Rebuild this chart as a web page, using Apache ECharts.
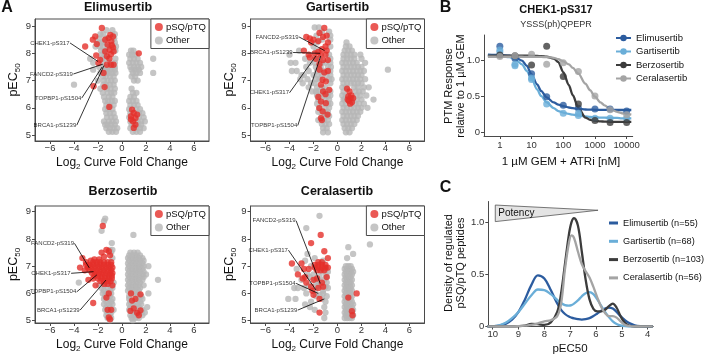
<!DOCTYPE html>
<html><head><meta charset="utf-8">
<script src="https://cdn.jsdelivr.net/npm/echarts@6/dist/echarts.min.js"></script>
<style>html,body{margin:0;padding:0;background:#fff}#c{width:705px;height:358px}</style>
</head><body><div id="c"></div>
<script>
// ---------------- DATA ----------------
const scatterTicksX = [-6, -4, -2, 0, 2, 4, 6];
const scatterTicksY = [5, 6, 7, 8, 9];

// rows: [pEC50, [log2 fold changes...]]
const elimusertibOtherRows = [
  [8.85, [-1.3, -0.8]], [8.7, [-1.8, -1.55, -0.6]], [8.55, [-1.9, -1.3, -0.65]],
  [8.4, [-2.0, -1.7, -1.55, -0.6]], [8.25, [-2.2, -1.85, -1.6, -1.2, -0.5]],
  [8.1, [-1.75, -1.5, -0.55, 0.75, 0.95]], [7.95, [-1.7, -1.45, 0.6, 0.85, 1.1]],
  [7.8, [-2.65, -1.65, -1.35, -0.55, 0.7, 1.0, 1.3, 2.6]], [7.65, [-2.4, -1.6, -1.0, -0.6, 0.6, 0.9, 1.2, 1.5]],
  [7.5, [-1.9, -1.45, -1.15, -0.85, -0.6, 0.7, 1.0, 1.3, 1.6]], [7.4, [-2.4, -1.5, -1.25, -0.95, -0.6, 0.8, 1.1, 1.4]],
  [7.28, [-1.8, -1.3, -1.1, -0.8, -0.55, 0.9, 1.2, 1.5, 2.6]], [7.15, [-1.6, -1.35, -1.0, -0.7, 0.8, 1.1]],
  [7.0, [-2.0, -1.5, -1.2, -0.9, -0.6, 1.0, 1.3]], [6.85, [-4.0, -1.55, -1.3, -1.0, -0.7]],
  [6.7, [-1.8, -1.25, -0.95, -0.6, 0.8]], [6.55, [-1.6, -1.2, -0.9, -0.65, 0.9, 1.2]],
  [6.4, [-1.5, -1.1, -0.8, 0.7, 1.0]], [6.25, [-1.4, -1.15, -0.85, -0.6, 0.6, 0.9, 1.2]],
  [6.1, [-1.3, -1.0, -0.7, 0.7, 1.0, 1.3]], [5.95, [-1.4, -1.15, -0.8, 0.6, 1.2, 1.5]],
  [5.8, [-1.3, -1.0, -0.7, 0.7, 1.4, 1.7]], [5.65, [-1.25, -0.9, -0.6, 0.6, 1.4, 1.8]],
  [5.5, [-1.5, -1.1, -0.8, -0.5, 0.7, 1.3, 1.6, 1.9]], [5.38, [-1.4, -1.2, -0.9, -0.6, 0.8, 1.3, 1.6]],
  [5.25, [-1.3, -1.0, -0.7, -0.4, 0.7, 1.2, 1.5, 1.8]], [5.12, [-1.1, -0.8, -0.5, 0.9, 1.2, 1.5]]
];
const elimusertibPq = [
  [-1.68, 8.93], [-2.23, 8.62], [-2.43, 8.5], [-2.1, 8.34], [-3.07, 8.25], [-2.15, 7.92], [-1.82, 7.76], [-1.96, 7.64],
  [-0.98, 8.68], [-0.75, 8.62], [-1.12, 8.56], [-1.4, 8.5], [-0.89, 8.44], [-1.2, 8.32], [-0.75, 8.22], [-1.03, 8.13],
  [-1.4, 8.07], [-0.7, 8.07], [-0.92, 7.97], [-1.26, 7.89], [-0.85, 8.3], [-1.05, 7.8],
  [-1.26, 7.58], [-0.92, 7.58], [-0.7, 7.58], [-1.54, 7.28], [-2.37, 6.79], [-1.45, 6.76], [-1.06, 6.03], [1.4, 8.0],
  [0.84, 5.93], [0.98, 5.81], [0.75, 5.69], [1.12, 5.62], [0.92, 5.5], [1.12, 5.38], [0.98, 5.26], [0.75, 5.57], [1.26, 5.75]
];
const elimusertibLabels = [
  ['CHEK1-pS317', -4.33, 8.38, -2.0, 7.7], ['FANCD2-pS319', -4.05, 7.24, -1.6, 7.6],
  ['TOPBP1-pS1504', -3.35, 6.36, -1.65, 7.5], ['BRCA1-pS1239', -3.77, 5.36, -1.5, 7.55]
];

const gartisertibOtherRows = [
  [8.95, [-1.55, -1.9]], [8.8, [-0.7, -1.3]], [8.65, [-1.75, -0.6]], [8.5, [-1.3, -0.6]], [8.4, [-1.7, 0.75]],
  [8.25, [-2.0, -0.6, 0.7, 1.0]], [8.1, [-1.75, -3.2, 0.6, 0.9, 1.2]],
  [7.95, [-4.0, -1.6, -0.7, 0.5, 0.8, 1.1, 1.4, 1.9]], [7.8, [-2.7, -1.9, -1.5, -0.6, 0.5, 0.8, 1.1, 1.4, 2.0]],
  [7.65, [-3.9, -3.5, -2.3, -1.9, -1.3, -1.0, -0.6, 0.4, 0.7, 1.0, 1.3, 1.6, 2.3]],
  [7.5, [-2.6, -1.8, -1.4, -0.8, -0.55, 0.5, 0.8, 1.1, 1.4, 1.7, 2.0]],
  [7.35, [-3.4, -3.8, -2.4, -1.7, -1.2, -0.6, 0.4, 0.7, 1.0, 1.3, 1.6, 1.9, 2.2]],
  [7.2, [-3.0, -2.8, -2.0, -1.6, -1.3, -0.9, -0.6, 0.5, 0.8, 1.1, 1.4, 1.7, 2.0]],
  [7.05, [-3.1, -2.5, -1.8, -1.5, -0.7, -0.5, 0.4, 0.7, 1.0, 1.3, 1.6, 1.9, 2.3]],
  [6.9, [-2.9, -2.2, -1.9, -0.6, 0.5, 0.8, 1.1, 1.4, 1.7, 2.0]],
  [6.75, [-2.4, -1.7, -1.3, -1.0, 0.4, 0.7, 1.4, 1.7, 2.2, 2.6]],
  [6.6, [-2.1, -1.8, -1.6, -1.1, -0.6, 0.5, 1.5, 1.8, 2.1]],
  [6.45, [-1.7, -1.4, -1.1, -0.8, -0.6, 0.4, 0.7, 1.6, 1.9, 2.4]],
  [6.3, [-1.6, -1.0, -0.7, 0.5, 0.6, 1.6, 2.0, 3.0]],
  [6.15, [-1.7, -1.3, -0.8, -0.6, 0.4, 0.7, 1.5, 1.8, 2.2]],
  [6.0, [-1.5, -1.0, -0.7, 0.5, 0.8, 1.1, 1.4, 1.7, 2.0, 2.5]],
  [5.85, [-1.6, -1.1, -0.8, 0.4, 0.7, 1.0, 1.3, 1.6, 1.9]],
  [5.7, [-1.3, -1.0, -0.7, 0.5, 0.8, 1.1, 1.4, 1.7]],
  [5.55, [-1.6, -1.1, -0.8, 0.4, 0.7, 1.0, 1.3, 1.6]],
  [5.4, [-1.3, -1.0, -0.7, 0.5, 0.8, 1.1, 1.4]],
  [5.25, [-1.2, -0.9, 0.6, 0.9, 1.2]], [5.1, [-1.2, -0.8, 0.7, 1.0]], [7.4, [4.2]]
];
const gartisertibPq = [
  [-2.6, 8.6], [-2.3, 8.55], [-2.0, 8.5], [-1.5, 8.75], [-1.1, 8.93], [-0.9, 8.65], [-1.2, 8.6], [-1.6, 8.45],
  [-2.2, 8.4], [-0.8, 8.4], [-1.0, 8.25], [-1.3, 8.15], [-0.9, 8.1], [-2.8, 8.1], [-2.4, 7.95], [-1.9, 8.0],
  [-1.6, 8.05], [-1.4, 7.95], [-1.0, 7.95], [-2.3, 7.85], [-1.8, 7.8], [-1.2, 7.75], [-0.8, 7.75], [-1.5, 7.6],
  [-1.1, 7.3], [-0.8, 7.35], [-1.5, 7.4], [-1.24, 7.03], [-0.97, 6.97], [-1.38, 6.85], [-0.69, 6.66], [-1.2, 6.6],
  [-1.0, 6.5], [-1.6, 6.4], [-1.38, 6.23], [-0.97, 6.17], [-1.52, 5.99], [-1.24, 5.87], [-0.83, 5.75], [-1.38, 5.62],
  [-1.3, 5.55],
  [0.8, 6.7], [1.0, 6.6], [0.9, 6.42], [1.1, 6.35], [1.3, 6.35], [0.95, 6.25], [1.2, 6.2], [1.05, 6.15], [0.85, 6.3], [1.15, 6.45]
];
const gartisertibLabels = [
  ['FANCD2-pS319', -3.2, 8.6, -1.08, 8.1], ['BRCA1-pS1239', -3.7, 8.03, -1.45, 8.0],
  ['CHEK1-pS317', -4.0, 6.55, -1.8, 7.9], ['TOPBP1-pS1504', -3.31, 5.35, -1.4, 7.9]
];

const berzosertibOtherRows = [
  [8.75, [-1.4]], [8.65, [-1.5]], [8.3, [-1.7]], [8.15, [0.95]], [7.85, [-0.85]],
  [7.6, [-1.0, -0.8]], [7.5, [-0.9, 0.7, 1.0, 1.3]], [7.4, [0.6, 0.9, 1.2, 1.5]], [7.3, [-0.8, 0.5, 0.8, 1.1, 1.4, 1.7]],
  [7.2, [0.6, 0.9, 1.2, 1.5, 1.8]], [7.1, [0.5, 0.8, 1.1, 1.4, 1.7]], [7.0, [0.6, 0.9, 1.2, 1.5, 1.8, 2.2]],
  [6.9, [0.5, 0.8, 1.1, 1.4, 1.7]], [6.8, [0.6, 0.9, 1.2, 1.5, 1.8]], [6.7, [0.5, 0.8, 1.1, 1.4, 1.7, 2.0]],
  [6.6, [0.6, 0.9, 1.2, 1.5, 1.8]], [6.5, [0.5, 0.8, 1.1, 1.4, 1.7, 3.0]], [6.4, [-3.6, -0.7, 0.6, 0.9, 1.2, 1.5]],
  [6.3, [-1.9, -1.5, -1.0, 0.5, 0.8, 1.1, 1.4, 1.8]], [6.2, [-1.7, -1.2, -0.8, 0.6, 0.9, 1.2, 1.5]],
  [6.1, [-1.5, -1.0, 0.5, 0.8, 1.1, 1.4]], [6.0, [-1.6, -1.3, -0.9, 1.0, 1.3, 2.2]],
  [5.9, [-1.4, -1.0, 0.6, 1.2, 1.6]], [5.8, [-1.5, -1.1, -0.8, 0.6, 1.4, 1.7]], [5.7, [-1.3, -0.9, 0.7, 1.1, 1.5]],
  [5.6, [-1.5, -1.1, -0.8, 0.6, 0.9, 1.3, 1.6]], [5.5, [-1.3, -1.0, 0.7, 1.1, 1.4, 2.1]],
  [5.4, [-1.4, -1.1, -0.7, 0.6, 1.7]], [5.3, [-1.2, -0.9, 0.9, 1.1, 1.6, 1.9]],
  [5.2, [-1.3, -1.0, 0.7, 1.0, 1.3, 1.7]], [5.1, [-1.2, -0.9, 0.8, 1.1, 1.4]], [5.02, [-1.0, 0.9]]
];
const berzosertibPqRows = [
  [7.15, [-2.4, -2.1, -1.8, -1.5, -1.2, -0.9]],
  [7.05, [-3.0, -2.7, -2.4, -2.1, -1.8, -1.5, -1.2, -0.9]],
  [6.95, [-2.85, -2.55, -2.25, -1.95, -1.65, -1.35, -1.05, -0.8]],
  [6.85, [-2.7, -2.4, -2.1, -1.8, -1.5, -1.2, -0.9]],
  [6.75, [-2.5, -2.2, -1.9, -1.6, -1.3, -1.0, -0.8]],
  [6.65, [-2.3, -2.0, -1.7, -1.4, -1.1, -0.85]],
  [6.55, [-2.0, -1.7, -1.4, -1.1, -0.85]],
  [6.45, [-1.8, -1.5, -1.2, -0.95]], [6.35, [-1.5, -1.2]]
];
const berzosertibPqExtra = [
  [-1.6, 8.48], [-3.5, 6.95], [-3.3, 7.3], [-3.0, 7.15], [-2.8, 7.0], [-2.3, 7.25], [-1.9, 7.25], [-1.7, 7.5],
  [-1.3, 7.6], [-1.1, 7.55], [-1.0, 7.4], [-1.5, 7.35], [-2.6, 7.2], [-3.1, 6.85], [-2.8, 6.5], [-2.4, 6.55],
  [-0.8, 6.3], [-2.2, 6.3], [-1.1, 6.0], [-2.4, 5.65], [-1.3, 5.85], [-1.2, 5.4], [-0.9, 5.4], [-1.1, 5.12], [-1.0, 5.05],
  [0.75, 6.0], [1.12, 5.8], [0.84, 5.74], [1.54, 5.97], [0.7, 5.36], [0.98, 5.45], [1.26, 5.29], [1.54, 5.38], [1.4, 5.2]
];
const berzosertibLabels = [
  ['FANCD2-pS319', -3.96, 7.84, -2.73, 6.94], ['CHEK1-pS317', -4.24, 6.74, -2.37, 6.8],
  ['TOPBP1-pS1504', -3.77, 6.06, -2.1, 6.68], ['BRCA1-pS1239', -3.49, 5.39, -1.34, 6.49]
];

const ceralasertibOtherRows = [
  [8.85, [-1.5]], [8.4, [-2.6]], [7.8, [2.7]], [7.7, [0.9]], [7.45, [-2.5, 1.3]], [7.3, [-1.9, 0.8]],
  [7.2, [-2.7, -1.2]], [7.0, [-2.2, 0.7, 0.9, 1.1]], [6.9, [-3.4, -1.0, 0.6, 0.8, 1.0, 1.2]],
  [6.8, [-1.4, -0.8, 0.7, 0.9, 1.1, 1.3]], [6.7, [-2.5, -2.0, -1.0, 0.6, 0.8, 1.0, 1.2]],
  [6.6, [-2.3, -1.5, -0.9, 0.7, 0.9, 1.1]], [6.5, [-3.0, -1.9, -1.1, 0.6, 0.8, 1.0, 1.2]],
  [6.45, [-1.6]], [6.4, [-1.8, -0.9, 0.7, 0.9, 1.1]], [6.3, [-2.4, -1.4, 0.6, 0.8, 1.0, 1.2]],
  [6.25, [-1.7, -1.0]], [6.2, [-3.6, -3.3, -2.8, -0.8, 0.7, 0.9, 1.1]], [6.1, [-1.9, -1.2, 0.6, 0.8, 1.0, 1.2]],
  [6.0, [-2.6, -1.2, 0.7, 0.9, 1.1]], [5.95, [-1.5]], [5.9, [-0.9, -1.8, 0.6, 0.8, 1.0, 1.2]],
  [5.8, [-4.1, -3.5, -1.3, 0.7, 0.9, 1.1]], [5.7, [-2.2, -1.0, 0.6, 0.8, 1.0, 1.2]],
  [5.6, [-2.7, 0.7, 0.9, 1.1, 1.3]], [5.5, [-2.3, -1.1, 0.6, 0.8, 1.0, 1.2]], [5.4, [-1.9, 0.7, 0.9, 1.1, 1.3]],
  [5.3, [-1.0, 0.6, 0.8, 1.0, 1.2]], [5.2, [0.7, 0.9, 1.1, 1.3]], [5.1, [-1.1, 0.6, 0.8, 1.0, 1.2]]
];
const ceralasertibPqRows = [
  [7.15, [-1.6, -1.3]], [7.05, [-1.9, -1.6, -1.3, -1.0]], [6.95, [-1.9, -1.6, -1.3, -1.0, -0.8]], [6.85, [-1.7, -1.4, -1.1]]
];
const ceralasertibPqExtra = [
  [-1.4, 8.15], [-2.2, 7.85], [-1.1, 7.55], [-0.8, 7.3], [-3.8, 7.1], [-3.0, 7.1], [-2.8, 6.9], [-2.4, 6.9],
  [-3.3, 6.7], [-2.9, 6.55], [-2.6, 6.4], [-2.0, 6.5], [-1.7, 6.55], [-2.2, 6.25], [-2.1, 6.1], [-1.3, 6.4],
  [-1.6, 6.2], [-1.2, 6.25], [-2.0, 5.95], [-1.5, 5.8], [-1.5, 5.3], [-0.9, 6.6], [-2.7, 6.6],
  [0.9, 5.85], [1.6, 6.0], [1.2, 5.35], [1.25, 5.2]
];
const ceralasertibLabels = [
  ['FANCD2-pS319', -3.45, 8.67, -1.44, 6.37], ['CHEK1-pS317', -4.09, 7.59, -1.8, 6.13],
  ['TOPBP1-pS1504', -3.45, 6.37, -1.6, 6.0], ['BRCA1-pS1239', -3.31, 5.39, -1.1, 5.8]
];

// Panel B: dose response of CHEK1-pS317
const drugs = ['Elimusertib', 'Gartisertib', 'Berzosertib', 'Ceralasertib'];
const doseTicks = [1, 10, 100, 1000, 10000];
const responseTicks = [0, 0.5, 1.0];
const curveDoses = [0.42, 1, 2, 3, 5, 7, 10, 15, 20, 30, 50, 70, 100, 150, 200, 300, 500, 700, 1000, 1500, 2000, 3000, 5000, 7000, 10000, 14000];
const curveElimusertib = [1.085, 1.08, 1.07, 1.05, 1.0, 0.93, 0.81, 0.67, 0.58, 0.49, 0.42, 0.39, 0.37, 0.35, 0.34, 0.33, 0.322, 0.32, 0.318, 0.317, 0.316, 0.316, 0.315, 0.315, 0.315, 0.315];
const curveGartisertib = [1.07, 1.065, 1.05, 1.02, 0.95, 0.86, 0.75, 0.6, 0.51, 0.42, 0.34, 0.3, 0.28, 0.26, 0.25, 0.24, 0.225, 0.22, 0.215, 0.21, 0.21, 0.205, 0.205, 0.2, 0.2, 0.2];
const curveBerzosertib = [1.07, 1.07, 1.07, 1.07, 1.07, 1.069, 1.068, 1.066, 1.063, 1.055, 1.03, 0.98, 0.84, 0.66, 0.52, 0.34, 0.21, 0.18, 0.165, 0.157, 0.154, 0.152, 0.15, 0.15, 0.15, 0.15];
const curveCeralasertib = [1.055, 1.055, 1.055, 1.055, 1.055, 1.054, 1.054, 1.053, 1.052, 1.05, 1.04, 1.02, 0.99, 0.95, 0.9, 0.82, 0.68, 0.59, 0.5, 0.42, 0.38, 0.33, 0.29, 0.27, 0.26, 0.25];
const pointsElimusertib = [[1, 1.2], [3, 1.03], [10, 0.82], [30, 0.5], [100, 0.38], [300, 0.34], [1000, 0.33], [3000, 0.33], [10000, 0.3]];
const pointsGartisertib = [[1, 1.15], [1, 1.12], [3, 0.93], [3, 0.95], [10, 0.74], [10, 0.76], [30, 0.4], [100, 0.27], [300, 0.27], [300, 0.24], [1000, 0.2], [3000, 0.2], [10000, 0.2]];
const pointsBerzosertib = [[1, 1.08], [3, 1.07], [10, 0.94], [30, 1.2], [100, 0.78], [300, 0.4], [1000, 0.17], [3000, 0.14], [10000, 0.14]];
const pointsCeralasertib = [[1, 1.06], [3, 1.07], [10, 1.09], [30, 0.95], [100, 0.97], [300, 0.85], [1000, 0.51], [3000, 0.32], [10000, 0.25]];

// Panel C: density of regulated pSQ/pTQ peptides
const densityNames = ['Elimusertib (n=55)', 'Gartisertib (n=68)', 'Berzosertib (n=103)', 'Ceralasertib (n=56)'];
const pec50Ticks = [4, 5, 6, 7, 8, 9, 10];
const densityTicks = [0, 0.5, 1.0];
const densityX = [10.2, 10, 9.75, 9.5, 9.25, 9.0, 8.75, 8.5, 8.25, 8.0, 7.75, 7.5, 7.35, 7.2, 7.05, 6.95, 6.85, 6.7, 6.55, 6.4, 6.25, 6.1, 5.95, 5.8, 5.65, 5.5, 5.35, 5.2, 5.05, 4.9, 4.75, 4.5, 4.25, 4.0, 3.8];
const densityElimusertib = [0, 0.002, 0.008, 0.025, 0.065, 0.14, 0.26, 0.4, 0.49, 0.46, 0.35, 0.22, 0.16, 0.12, 0.095, 0.085, 0.078, 0.07, 0.066, 0.07, 0.08, 0.1, 0.125, 0.15, 0.172, 0.182, 0.172, 0.14, 0.1, 0.065, 0.038, 0.012, 0.003, 0, 0];
const densityGartisertib = [0, 0.003, 0.012, 0.035, 0.08, 0.14, 0.22, 0.3, 0.355, 0.35, 0.31, 0.255, 0.225, 0.205, 0.2, 0.205, 0.22, 0.25, 0.29, 0.32, 0.33, 0.31, 0.26, 0.2, 0.14, 0.09, 0.05, 0.025, 0.01, 0.003, 0, 0, 0, 0, 0];
const densityBerzosertib = [0, 0, 0, 0, 0, 0.002, 0.008, 0.025, 0.022, 0.015, 0.04, 0.14, 0.32, 0.6, 0.88, 1.0, 1.04, 0.97, 0.72, 0.45, 0.26, 0.17, 0.145, 0.145, 0.16, 0.195, 0.22, 0.18, 0.1, 0.04, 0.012, 0, 0, 0, 0];
const densityCeralasertib = [0, 0, 0, 0, 0, 0.003, 0.008, 0.015, 0.03, 0.05, 0.06, 0.1, 0.22, 0.55, 0.8, 0.875, 0.85, 0.72, 0.6, 0.53, 0.47, 0.38, 0.28, 0.19, 0.13, 0.1, 0.1, 0.085, 0.05, 0.02, 0.006, 0, 0, 0, 0];
const potencyTriangle = [[9.9, 1.166], [9.9, 1.007], [5.92, 1.116]];

// ---------------- BUILD ----------------
const FONT = '"Liberation Sans", Arial, Helvetica, sans-serif';
const AXIS = '#4a4a4a';
const RED = '#e5302b';
const GRAY = '#b7b7b7';
const drugColors = ['#2c5c9f', '#6aaed8', '#3c3c3c', '#a4a4a4'];

function rowsToPoints(rows) { const out = []; rows.forEach(([y, xs]) => xs.forEach(x => out.push([x, y]))); return out; }
const minusFmt = v => (v < 0 ? '\u2212' + (-v) : String(v));
const oneDecFmt = v => (Math.abs(v) < 1e-9 ? '0' : Number(v).toFixed(1));

const panels = [
  { title: 'Elimusertib', other: rowsToPoints(elimusertibOtherRows), pq: elimusertibPq, labels: elimusertibLabels,
    box: [35, 19, 174, 122], y: [4.78, 9.26], titlePos: [118, 8] },
  { title: 'Gartisertib', other: rowsToPoints(gartisertibOtherRows), pq: gartisertibPq, labels: gartisertibLabels,
    box: [250.5, 19, 174, 122], y: [4.78, 9.26], titlePos: [337.5, 8] },
  { title: 'Berzosertib', other: rowsToPoints(berzosertibOtherRows), pq: rowsToPoints(berzosertibPqRows).concat(berzosertibPqExtra), labels: berzosertibLabels,
    box: [35, 206, 174, 117], y: [4.916, 9.21], titlePos: [123, 192] },
  { title: 'Ceralasertib', other: rowsToPoints(ceralasertibOtherRows), pq: rowsToPoints(ceralasertibPqRows).concat(ceralasertibPqExtra), labels: ceralasertibLabels,
    box: [250.5, 206, 174, 117], y: [4.916, 9.21], titlePos: [337, 191.5] }
];

const option = { animation: false, textStyle: { fontFamily: FONT }, grid: [], xAxis: [], yAxis: [], series: [], legend: [], graphic: [] };

const subRich = (big, small) => ({
  a: { fontSize: big, lineHeight: 16, verticalAlign: 'middle', color: '#111', fontFamily: FONT },
  b: { fontSize: small, lineHeight: small + 1, verticalAlign: 'bottom', color: '#111', fontFamily: FONT }
});

panels.forEach((p, i) => {
  const [l, t, w, h] = p.box;
  option.grid.push({ left: l, top: t, width: w, height: h, show: true, borderColor: AXIS, borderWidth: 1, backgroundColor: 'transparent' });
  option.xAxis.push({
    gridIndex: i, type: 'value', min: -7.25, max: 7.25,
    axisLine: { show: true, onZero: false, lineStyle: { color: AXIS, width: 1 } },
    axisTick: { show: true, customValues: scatterTicksX, length: 3, lineStyle: { color: AXIS } },
    axisLabel: { customValues: scatterTicksX, formatter: minusFmt, fontSize: 9.5, color: '#333', margin: 2 },
    splitLine: { show: false },
    name: '{a|Log}{b|2}{a| Curve Fold Change}', nameLocation: 'middle', nameGap: 14,
    nameTextStyle: { rich: subRich(12, 8) }
  });
  option.yAxis.push({
    gridIndex: i, type: 'value', min: p.y[0], max: p.y[1],
    axisLine: { show: true, onZero: false, lineStyle: { color: AXIS, width: 1 } },
    axisTick: { show: true, customValues: scatterTicksY, length: 3, lineStyle: { color: AXIS } },
    axisLabel: { customValues: scatterTicksY, fontSize: 9.5, color: '#333', margin: 4, showMinLabel: true, showMaxLabel: true },
    splitLine: { show: false },
    name: '{a|pEC}{b|50}', nameLocation: 'middle', nameGap: 12,
    nameTextStyle: { rich: subRich(12.5, 8) }
  });
  option.series.push({ type: 'scatter', name: 'Other', xAxisIndex: i, yAxisIndex: i, data: p.other, symbolSize: 6.3,
    itemStyle: { color: GRAY }, z: 2, silent: true });
  option.series.push({ type: 'scatter', name: 'pSQ/pTQ', xAxisIndex: i, yAxisIndex: i, data: p.pq, symbolSize: 6.3,
    itemStyle: { color: RED }, z: 3, silent: true });
  p.labels.forEach(([name, fx, fy, tx, ty]) => {
    option.series.push({ type: 'line', name: 'ann', xAxisIndex: i, yAxisIndex: i, data: [[fx, fy], [tx, ty]],
      symbol: 'none', lineStyle: { color: '#000', width: 0.8 }, z: 5, silent: true });
  });
  option.series.push({ type: 'scatter', name: 'annText', xAxisIndex: i, yAxisIndex: i, symbolSize: 0, z: 6, silent: true,
    data: p.labels.map(([name, fx, fy]) => ({ name, value: [fx, fy] })),
    label: { show: true, position: 'left', distance: 0.5, formatter: '{b}', fontSize: 6, color: '#000', fontFamily: FONT } });
  option.legend.push({
    right: 705 - (l + w), top: t, orient: 'vertical', data: ['pSQ/pTQ', 'Other'], icon: 'circle',
    itemWidth: 8, itemHeight: 8, itemGap: 3.5, padding: [3, 3, 3, 4], borderColor: AXIS, borderWidth: 1,
    backgroundColor: '#fff', textStyle: { fontSize: 9.5, color: '#111', padding: [0, 0, 0, -2] }, selectedMode: false
  });
  option.graphic.push({ type: 'text', x: p.titlePos[0], y: p.titlePos[1],
    style: { text: p.title, font: 'bold 12.5px ' + FONT, fill: '#111', align: 'center', verticalAlign: 'middle' } });
});

// Panel B
const bi = 4;
option.grid.push({ left: 484, top: 35, width: 148.7, height: 101 });
option.xAxis.push({
  gridIndex: bi, type: 'value', min: -0.5, max: 4.19,
  axisLine: { show: true, onZero: false, lineStyle: { color: AXIS } },
  axisTick: { show: true, customValues: doseTicks.map(Math.log10), length: 3, lineStyle: { color: AXIS } },
  axisLabel: { customValues: doseTicks.map(Math.log10), formatter: v => String(Math.round(Math.pow(10, v))), fontSize: 9.5, color: '#333', margin: 4,
    showMinLabel: true, showMaxLabel: true },
  splitLine: { show: false }
});
option.yAxis.push({
  gridIndex: bi, type: 'value', min: -0.046, max: 1.357,
  axisLine: { show: true, onZero: false, lineStyle: { color: AXIS } },
  axisTick: { show: true, customValues: responseTicks, length: 3, lineStyle: { color: AXIS } },
  axisLabel: { customValues: responseTicks, formatter: oneDecFmt, fontSize: 9.5, color: '#333', margin: 4,
    showMinLabel: true, showMaxLabel: true, hideOverlap: false },
  splitLine: { show: false }
});
const curves = [curveElimusertib, curveGartisertib, curveBerzosertib, curveCeralasertib];
const pts = [pointsElimusertib, pointsGartisertib, pointsBerzosertib, pointsCeralasertib];
drugs.forEach((d, k) => {
  option.series.push({ type: 'line', name: d, xAxisIndex: bi, yAxisIndex: bi,
    data: curveDoses.map((x, j) => [Math.log10(x), curves[k][j]]), smooth: 0.3, smoothMonotone: 'x',
    showSymbol: false, symbol: 'circle', symbolSize: 7, itemStyle: { color: drugColors[k] },
    lineStyle: { color: drugColors[k], width: 2.3 }, z: 3, silent: true });
});
drugs.forEach((d, k) => {
  option.series.push({ type: 'scatter', name: d, xAxisIndex: bi, yAxisIndex: bi,
    data: pts[k].map(([x, y]) => [Math.log10(x), y]), symbolSize: 7,
    itemStyle: { color: drugColors[k] }, z: 4, silent: true });
});
option.legend.push({ left: 610, top: 28, orient: 'vertical', data: drugs, itemWidth: 15, itemHeight: 8, itemGap: 3.5,
  textStyle: { fontSize: 9.5, color: '#111' }, selectedMode: false });

// Panel C
const ci = 5;
option.grid.push({ left: 488.3, top: 201.5, width: 165, height: 125 });
option.xAxis.push({
  gridIndex: ci, type: 'value', min: 3.78, max: 10.17, inverse: true,
  axisLine: { show: true, onZero: false, lineStyle: { color: AXIS } },
  axisTick: { show: true, customValues: pec50Ticks, length: 3, lineStyle: { color: AXIS } },
  axisLabel: { customValues: pec50Ticks, fontSize: 9.5, color: '#333', margin: 3, showMinLabel: true, showMaxLabel: true },
  splitLine: { show: false }
});
option.yAxis.push({
  gridIndex: ci, type: 'value', min: 0, max: 1.2,
  axisLine: { show: true, onZero: false, lineStyle: { color: AXIS } },
  axisTick: { show: true, customValues: densityTicks, length: 3, lineStyle: { color: AXIS } },
  axisLabel: { customValues: densityTicks, formatter: oneDecFmt, fontSize: 9.5, color: '#333', margin: 4,
    showMinLabel: true, showMaxLabel: true, hideOverlap: false },
  splitLine: { show: false }
});
const dens = [densityElimusertib, densityGartisertib, densityBerzosertib, densityCeralasertib];
densityNames.forEach((d, k) => {
  option.series.push({ type: 'line', name: d, xAxisIndex: ci, yAxisIndex: ci,
    data: densityX.map((x, j) => [x, dens[k][j]]), smooth: 0.35, showSymbol: false, symbol: 'none',
    itemStyle: { color: drugColors[k] }, lineStyle: { color: drugColors[k], width: 2.3 }, z: 3 + k, silent: true });
});
option.series.push({ type: 'custom', name: 'potency', xAxisIndex: ci, yAxisIndex: ci, data: [0], z: 2, silent: true,
  renderItem: (params, api) => {
    const pp = potencyTriangle.map(q => api.coord(q));
    return { type: 'group', children: [
      { type: 'polygon', shape: { points: pp }, style: { fill: '#e4e4e4', stroke: '#555', lineWidth: 0.8 } },
      { type: 'text', x: pp[0][0] + 3, y: (pp[0][1] + pp[1][1]) / 2,
        style: { text: 'Potency', font: '10px ' + FONT, fill: '#111', verticalAlign: 'middle', align: 'left' } }
    ] };
  } });
option.legend.push({ left: 604, top: 213.5, orient: 'vertical', data: densityNames, icon: 'rect', itemWidth: 9, itemHeight: 3,
  itemGap: 9.3, textStyle: { fontSize: 9.2, color: '#111' }, selectedMode: false });

// Text: panel letters, B/C titles and axis names
const txt = (text, x, y, font, extra) => Object.assign({ type: 'text', x, y,
  style: Object.assign({ text, font, fill: '#111', align: 'center', verticalAlign: 'middle' }, extra || {}) });
option.graphic.push(
  txt('A', 7, 8, 'bold 16px ' + FONT),
  txt('B', 445.5, 8, 'bold 16px ' + FONT),
  txt('C', 445.5, 188, 'bold 16px ' + FONT),
  txt('CHEK1-pS317', 556, 10, 'bold 11px ' + FONT),
  txt('YSSS(ph)QPEPR', 556, 25, '9px ' + FONT, { fill: '#333' }),
  txt('1 \u00B5M GEM + ATRi [nM]', 561, 162, '11.5px ' + FONT),
  txt('pEC50', 570, 349, '11.5px ' + FONT),
  Object.assign(txt('PTM Response\nrelative to 1 \u00B5M GEM', 455, 86, '11px ' + FONT, { lineHeight: 12.5 }), { rotation: Math.PI / 2, z: 0 }),
  Object.assign(txt('Density of regulated\npSQ/pTQ peptides', 455, 263, '11px ' + FONT, { lineHeight: 12.5 }), { rotation: Math.PI / 2, z: 0 })
);

const chart = echarts.init(document.getElementById('c'));
chart.setOption(option);
</script></body></html>
